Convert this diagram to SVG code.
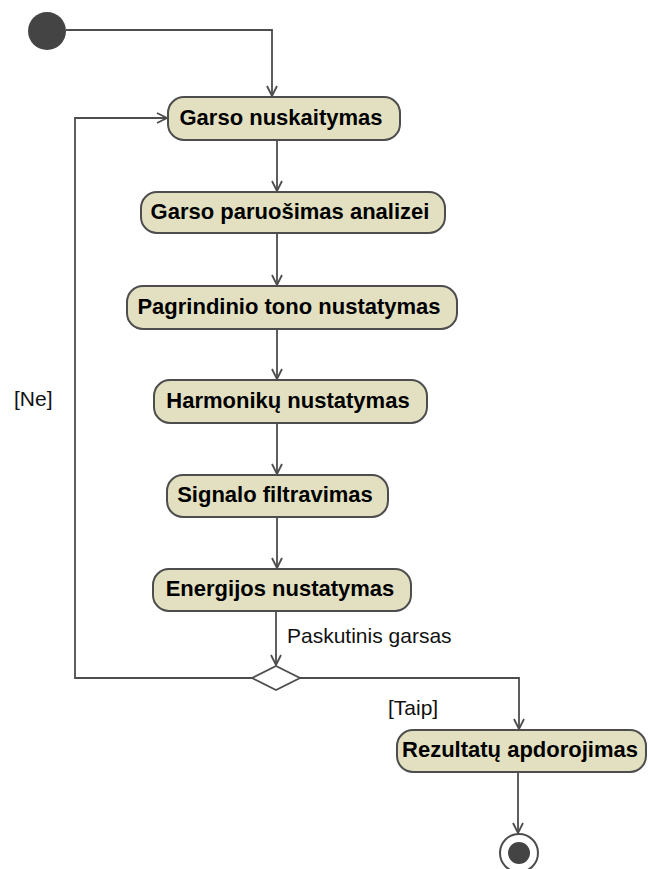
<svg xmlns="http://www.w3.org/2000/svg" width="648" height="869" viewBox="0 0 648 869">
<defs>
<style>
.act rect{fill:#e2e0c1;stroke:#4d4d4d;stroke-width:2}
.act text{font-family:"Liberation Sans",Arial,sans-serif;font-weight:bold;font-size:22px;fill:#000;text-anchor:middle}
.edge{fill:none;stroke:#4d4d4d;stroke-width:1.8;marker-end:url(#arr)}
.lbl{font-family:"Liberation Sans",Arial,sans-serif;font-size:21px;fill:#111}
</style>
<marker id="arr" viewBox="0 0 12 12" refX="11" refY="6" markerWidth="12" markerHeight="12" markerUnits="userSpaceOnUse" orient="auto">
<path d="M1,1 L11,6 L1,11" fill="none" stroke="#4d4d4d" stroke-width="1.8"/>
</marker>
</defs>
<rect width="648" height="869" fill="#fff"/>
<g id="connectors">
<polyline class="edge" points="66,30 272,30 272,96"/>
<line class="edge" x1="277" y1="140" x2="277" y2="191"/>
<line class="edge" x1="277" y1="233" x2="277" y2="285"/>
<line class="edge" x1="277" y1="329" x2="277" y2="379"/>
<line class="edge" x1="277" y1="423" x2="277" y2="474"/>
<line class="edge" x1="277" y1="517" x2="277" y2="568"/>
<line class="edge" x1="276" y1="611" x2="276" y2="665"/>
<polyline class="edge" points="252,678 75,678 75,118 167,118"/>
<polyline class="edge" points="300,678 519,678 519,729"/>
<line class="edge" x1="518" y1="772" x2="518" y2="833"/>
<text class="lbl" x="287" y="643">Paskutinis garsas</text>
<text class="lbl" x="14" y="406">[Ne]</text>
<text class="lbl" x="388" y="715">[Taip]</text>
</g>
<g id="start"><circle cx="47" cy="31" r="19" fill="#444"/></g>
<g id="n1" class="act"><rect x="168" y="97" width="232" height="43" rx="16"/><text x="281" y="125">Garso nuskaitymas</text></g>
<g id="n2" class="act"><rect x="141" y="192" width="304" height="41" rx="16"/><text x="290" y="219">Garso paruošimas analizei</text></g>
<g id="n3" class="act"><rect x="127" y="286" width="330" height="43" rx="16"/><text x="289" y="314">Pagrindinio tono nustatymas</text></g>
<g id="n4" class="act"><rect x="154" y="380" width="273" height="43" rx="16"/><text x="288" y="408">Harmonikų nustatymas</text></g>
<g id="n5" class="act"><rect x="167" y="475" width="221" height="42" rx="16"/><text x="275" y="502">Signalo filtravimas</text></g>
<g id="n6" class="act"><rect x="153" y="569" width="258" height="42" rx="16"/><text x="280" y="596">Energijos nustatymas</text></g>
<g id="decision"><polygon points="252,678 276,666 300,678 276,690" fill="#fff" stroke="#4d4d4d" stroke-width="1.8"/></g>
<g id="n7" class="act"><rect x="397" y="730" width="249" height="42" rx="16"/><text x="520" y="757">Rezultatų apdorojimas</text></g>
<g id="end"><circle cx="519" cy="853" r="19" fill="#fff" stroke="#4d4d4d" stroke-width="2"/><circle cx="519" cy="853" r="11" fill="#444"/></g>
</svg>
